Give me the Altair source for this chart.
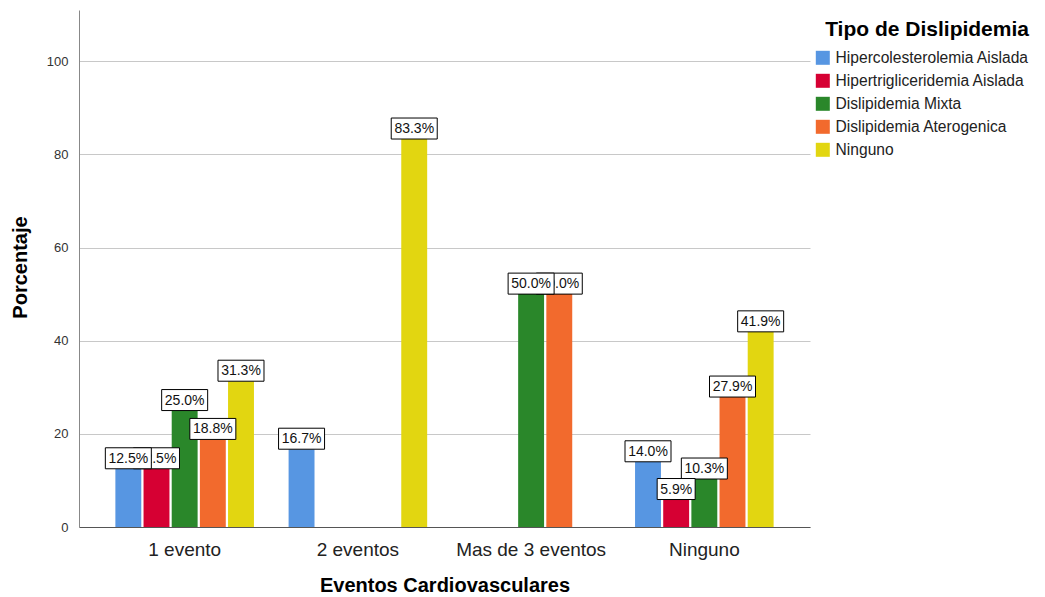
import altair as alt
import pandas as pd

# Categories and series
categorias = ["1 evento", "2 eventos", "Mas de 3 eventos", "Ninguno"]
tipos = [
    "Hipercolesterolemia Aislada",
    "Hipertrigliceridemia Aislada",
    "Dislipidemia Mixta",
    "Dislipidemia Aterogenica",
    "Ninguno",
]
colores = ["#5796e2", "#d60033", "#2a872a", "#f26a2d", "#e2d611"]

# Percentages per event category, one list per dyslipidemia type
hipercolesterolemia = [12.5, 16.7, 0.0, 14.0]
hipertrigliceridemia = [12.5, 0.0, 0.0, 5.9]
mixta = [25.0, 0.0, 50.0, 10.3]
aterogenica = [18.8, 0.0, 50.0, 27.9]
ninguno = [31.3, 83.3, 0.0, 41.9]

y_ticks = [0, 20, 40, 60, 80, 100]

series = [hipercolesterolemia, hipertrigliceridemia, mixta, aterogenica, ninguno]
rows = []
for tipo, valores in zip(tipos, series):
    for cat, v in zip(categorias, valores):
        if v > 0:
            etiqueta = f"{v:.1f}%"
            w = 8 * len(etiqueta) + 6  # label box width in px
            h = 21.0                   # label box height in px
            r = h / w
            rows.append({
                "evento": cat,
                "tipo": tipo,
                "pct": v,
                "etiqueta": etiqueta,
                "caja": f"M-1,{-r:.4f}L1,{-r:.4f}L1,{r:.4f}L-1,{r:.4f}Z",
                "area": w * w,
            })
df = pd.DataFrame(rows)

FONT = "Liberation Sans"

x_enc = alt.X(
    "evento:N",
    sort=categorias,
    scale=alt.Scale(domain=categorias, paddingInner=0.2, paddingOuter=0.21),
    axis=alt.Axis(
        title="Eventos Cardiovasculares",
        labelAngle=0,
        labelFontSize=19,
        labelColor="#222",
        labelPadding=13,
        ticks=False,
        domainColor="#555",
        titleFontSize=20,
        titleFontWeight="bold",
        titleY=58,
        titleBaseline="middle",
    ),
)
xoff_enc = alt.XOffset("tipo:N", sort=tipos, scale=alt.Scale(domain=tipos, paddingInner=0.08))
y_enc = alt.Y(
    "pct:Q",
    scale=alt.Scale(domain=[0, 111], nice=False),
    axis=alt.Axis(
        title="Porcentaje",
        values=y_ticks,
        labelFontSize=13,
        labelColor="#333",
        labelPadding=11,
        ticks=False,
        domainColor="#888",
        gridColor="#c8c8c8",
        titleFontSize=20,
        titleFontWeight="bold",
        titleX=-59,
        titleY=257,
        titleAlign="center",
        titleBaseline="middle",
        titleAngle=270,
    ),
)

base = alt.Chart(df)

bars = base.mark_bar().encode(
    x=x_enc,
    xOffset=xoff_enc,
    y=y_enc,
    color=alt.Color(
        "tipo:N",
        sort=tipos,
        scale=alt.Scale(domain=tipos, range=colores),
        legend=alt.Legend(
            title="Tipo de Dislipidemia",
            orient="none",
            legendX=736,
            legendY=9,
            titleFontSize=21,
            titleFontWeight="bold",
            titleColor="#000",
            titleAnchor="end",
            titlePadding=10,
            titleLimit=0,
            labelFontSize=15.6,
            labelColor="#222",
            labelOffset=5,
            labelLimit=0,
            symbolType="square",
            symbolSize=196,
            symbolStrokeWidth=0,
            symbolOpacity=1,
            rowPadding=6,
        ),
    ),
)

# Label boxes: earlier series are drawn last so they sit on top
layers = [bars]
for tipo in reversed(tipos):
    sub = base.transform_filter(alt.datum.tipo == tipo)
    caja = sub.mark_point(
        filled=True, fill="white", stroke="black", strokeWidth=1, opacity=1, yOffset=-10.5
    ).encode(
        x=alt.X("evento:N", sort=categorias),
        xOffset=alt.XOffset("tipo:N", sort=tipos),
        y=alt.Y("pct:Q"),
        shape=alt.Shape("caja:N", scale=None),
        size=alt.Size("area:Q", scale=None),
    )
    texto = sub.mark_text(
        fontSize=14, font=FONT, color="#111", baseline="middle", dy=-10
    ).encode(
        x=alt.X("evento:N", sort=categorias),
        xOffset=alt.XOffset("tipo:N", sort=tipos),
        y=alt.Y("pct:Q"),
        text="etiqueta:N",
    )
    layers += [caja, texto]

chart = (
    alt.layer(*layers)
    .properties(
        width=731,
        height=517,
        autosize=alt.AutoSizeParams(type="none"),
        padding={"left": 79, "top": 10, "right": 235, "bottom": 70},
    )
    .configure(font=FONT)
    .configure_view(stroke=None)
    .configure_axis(labelFont=FONT, titleFont=FONT, titleColor="#000")
    .configure_legend(labelFont=FONT, titleFont=FONT)
)

chart.save("out.html", embed_options={"renderer": "svg", "actions": False})
